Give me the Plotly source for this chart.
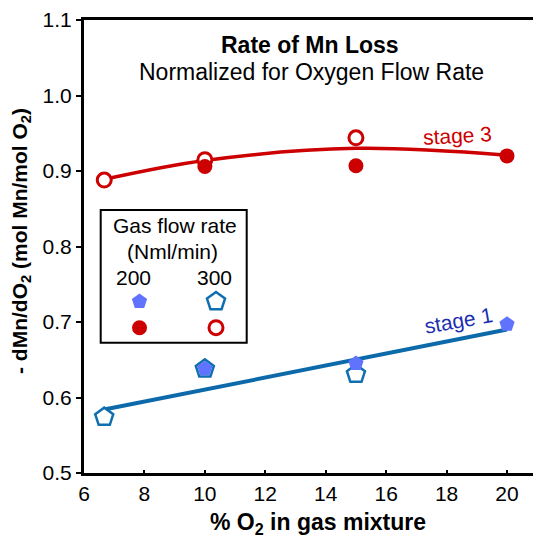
import plotly.graph_objects as go

# O2 content of the gas mixture (%)
x_300 = [6.67, 10, 15]
x_200 = [10, 15, 20]

# Stage 1 Mn loss rate (mol Mn / mol O2)
stage1_200 = [0.638, 0.645, 0.697]
stage1_300 = [0.574, 0.638, 0.631]

# Stage 3 Mn loss rate (mol Mn / mol O2)
stage3_200 = [0.906, 0.907, 0.920]
stage3_300 = [0.888, 0.915, 0.944]

# Trend lines
stage1_fit_x = [6.67, 20]
stage1_fit_y = [0.584, 0.690]
stage3_fit_x = [6.67, 10, 15, 20]
stage3_fit_y = [0.889, 0.914, 0.930, 0.921]

x_ticks = [6, 8, 10, 12, 14, 16, 18, 20]

RED = "#cc0000"
BLUE_FILL = "#5f73ff"
BLUE_EDGE = "#0f6fb0"
BLUE_LINE = "#0c6aaa"
FONT = "Liberation Sans, Arial, sans-serif"

W, H = 533, 540
L, R, T, B = 84, 0, 20, 67
PW, PH = W - L - R, H - T - B


def px(x):
    return (x - L) / PW


def py(y):
    return (H - B - y) / PH


fig = go.Figure()

fig.add_trace(go.Scatter(x=stage1_fit_x, y=stage1_fit_y, mode="lines",
                         line=dict(color=BLUE_LINE, width=4), hoverinfo="skip"))
fig.add_trace(go.Scatter(x=stage3_fit_x, y=stage3_fit_y, mode="lines",
                         line=dict(color=RED, width=3.5, shape="spline"), hoverinfo="skip"))

# 300 Nml/min (open markers)
fig.add_trace(go.Scatter(x=x_300, y=stage1_300, mode="markers",
                         marker=dict(symbol="pentagon", size=19, color="white",
                                     line=dict(color=BLUE_EDGE, width=2.5))))
fig.add_trace(go.Scatter(x=x_300, y=stage3_300, mode="markers",
                         marker=dict(symbol="circle", size=14, color="white",
                                     line=dict(color=RED, width=3))))
# 200 Nml/min (filled markers)
fig.add_trace(go.Scatter(x=x_200, y=stage1_200, mode="markers",
                         marker=dict(symbol="pentagon", size=16, color=BLUE_FILL)))
fig.add_trace(go.Scatter(x=x_200, y=stage3_200, mode="markers",
                         marker=dict(symbol="circle", size=15, color=RED)))

# Legend key markers, placed in data space inside the legend box
def dx(xp):
    return 6 + (xp - L) / PW * 14.86


def dy(yp):
    return 0.5 + (H - B - yp) / PH * 0.6


fig.add_trace(go.Scatter(x=[dx(216)], y=[dy(301.5)], mode="markers",
                         marker=dict(symbol="pentagon", size=19, color="white",
                                     line=dict(color=BLUE_EDGE, width=2.5))))
fig.add_trace(go.Scatter(x=[dx(139.5)], y=[dy(301.5)], mode="markers",
                         marker=dict(symbol="pentagon", size=16, color=BLUE_FILL)))
fig.add_trace(go.Scatter(x=[dx(216)], y=[dy(327.7)], mode="markers",
                         marker=dict(symbol="circle", size=14, color="white",
                                     line=dict(color=RED, width=3))))
fig.add_trace(go.Scatter(x=[dx(139.5)], y=[dy(327.7)], mode="markers",
                         marker=dict(symbol="circle", size=15, color=RED)))

ann = []


def text(x, y, s, size=20, color="black", angle=0):
    ann.append(dict(x=px(x), y=py(y), xref="paper", yref="paper", text=s,
                    showarrow=False, xanchor="center", yanchor="middle",
                    textangle=angle, font=dict(family=FONT, size=size, color=color)))


text(310, 45, "<b>Rate of Mn Loss</b>", 23)
text(311, 72, "Normalized for Oxygen Flow Rate", 23)
text(175, 225, "Gas flow rate", 21)
text(172, 252, "(Nml/min)", 21)
text(133, 277, "200", 21)
text(214, 277, "300", 21)
text(457, 135, "stage 3", 21, RED, -3)
text(458, 320, "stage 1", 21, "#1a2fb0", -10)
text(318, 523, "<b>% O<sub>2</sub> in gas mixture</b>", 23)
text(21, 241, "<b>- dMn/dO<sub>2</sub> (mol Mn/mol O<sub>2</sub>)</b>", 21, angle=-90)

fig.update_layout(
    width=W, height=H,
    margin=dict(l=L, r=R, t=T, b=B),
    paper_bgcolor="white", plot_bgcolor="white",
    showlegend=False,
    font=dict(family=FONT, size=21, color="black"),
    annotations=ann,
    shapes=[dict(type="rect", xref="paper", yref="paper",
                 x0=px(100.7), x1=px(246.7), y0=py(342.7), y1=py(210),
                 line=dict(color="black", width=2), fillcolor="rgba(0,0,0,0)")],
    xaxis=dict(range=[6, 20.86], tickvals=x_ticks, ticks="inside", ticklen=3,
               tickwidth=2, tickcolor="black", showline=True, linewidth=3,
               linecolor="black", mirror=True, showgrid=False, zeroline=False,
               tickfont=dict(size=21)),
    yaxis=dict(range=[0.5, 1.1], dtick=0.1, tickformat=".1f", ticks="outside",
               ticklen=5, tickwidth=2, tickcolor="black", showline=True,
               linewidth=3, linecolor="black", showgrid=False, zeroline=False,
               tickfont=dict(size=21)),
)

fig.write_html("out.html")
